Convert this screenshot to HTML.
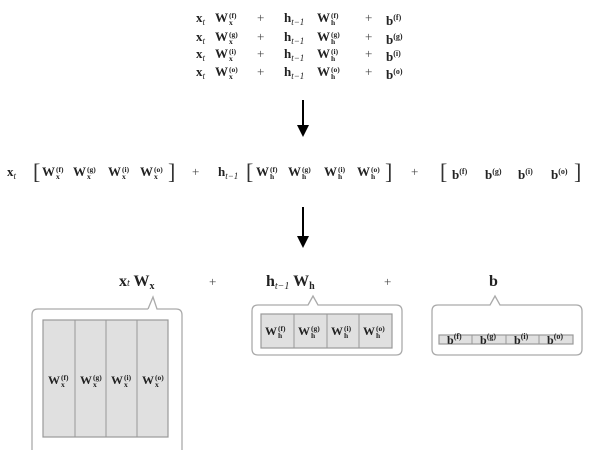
<!DOCTYPE html>
<html><head><meta charset="utf-8"><style>
body{margin:0;width:604px;height:450px;background:#fff;position:relative;overflow:hidden;font-family:"Liberation Serif",serif;color:#222}
.t{position:absolute;font-weight:bold;font-size:13px;line-height:16px;white-space:nowrap}
.p{position:absolute;font-size:13px;line-height:16px;color:#444}
.ss{display:inline-block;vertical-align:middle;font-size:7.5px;line-height:7px;text-align:left;margin-left:1px}
.ss span{display:block}
.it{font-style:italic;font-weight:normal}
.sub{font-size:9px;position:relative;top:3px}
.br{position:absolute;font-size:22px;line-height:22px;color:#333;font-weight:normal}
</style></head><body>

<!-- top block -->
<div class="t" style="left:196px;top:10px">x<span class="sub it">t</span></div>
<div class="t" style="left:215px;top:10px">W<span class="ss"><span>(f)</span><span>x</span></span></div>
<div class="p" style="left:257px;top:10px">+</div>
<div class="t" style="left:284px;top:10px">h<span class="sub it">t−1</span></div>
<div class="t" style="left:317px;top:10px">W<span class="ss"><span>(f)</span><span>h</span></span></div>
<div class="p" style="left:365px;top:10px">+</div>
<div class="t" style="left:386px;top:10px">b<span style="font-size:8px;vertical-align:5px">(f)</span></div>

<div class="t" style="left:196px;top:29px">x<span class="sub it">t</span></div>
<div class="t" style="left:215px;top:29px">W<span class="ss"><span>(g)</span><span>x</span></span></div>
<div class="p" style="left:257px;top:29px">+</div>
<div class="t" style="left:284px;top:29px">h<span class="sub it">t−1</span></div>
<div class="t" style="left:317px;top:29px">W<span class="ss"><span>(g)</span><span>h</span></span></div>
<div class="p" style="left:365px;top:29px">+</div>
<div class="t" style="left:386px;top:29px">b<span style="font-size:8px;vertical-align:5px">(g)</span></div>

<div class="t" style="left:196px;top:46px">x<span class="sub it">t</span></div>
<div class="t" style="left:215px;top:46px">W<span class="ss"><span>(i)</span><span>x</span></span></div>
<div class="p" style="left:257px;top:46px">+</div>
<div class="t" style="left:284px;top:46px">h<span class="sub it">t−1</span></div>
<div class="t" style="left:317px;top:46px">W<span class="ss"><span>(i)</span><span>h</span></span></div>
<div class="p" style="left:365px;top:46px">+</div>
<div class="t" style="left:386px;top:46px">b<span style="font-size:8px;vertical-align:5px">(i)</span></div>

<div class="t" style="left:196px;top:64px">x<span class="sub it">t</span></div>
<div class="t" style="left:215px;top:64px">W<span class="ss"><span>(o)</span><span>x</span></span></div>
<div class="p" style="left:257px;top:64px">+</div>
<div class="t" style="left:284px;top:64px">h<span class="sub it">t−1</span></div>
<div class="t" style="left:317px;top:64px">W<span class="ss"><span>(o)</span><span>h</span></span></div>
<div class="p" style="left:365px;top:64px">+</div>
<div class="t" style="left:386px;top:64px">b<span style="font-size:8px;vertical-align:5px">(o)</span></div>

<!-- middle row -->
<div class="t" style="left:7px;top:164px">x<span class="sub it">t</span></div>
<div class="br" style="left:33px;top:161px">[</div>
<div class="t" style="left:42px;top:164px">W<span class="ss"><span>(f)</span><span>x</span></span></div>
<div class="t" style="left:73px;top:164px">W<span class="ss"><span>(g)</span><span>x</span></span></div>
<div class="t" style="left:108px;top:164px">W<span class="ss"><span>(i)</span><span>x</span></span></div>
<div class="t" style="left:140px;top:164px">W<span class="ss"><span>(o)</span><span>x</span></span></div>
<div class="br" style="left:168px;top:161px">]</div>
<div class="p" style="left:192px;top:164px">+</div>
<div class="t" style="left:218px;top:164px">h<span class="sub it">t−1</span></div>
<div class="br" style="left:246px;top:161px">[</div>
<div class="t" style="left:256px;top:164px">W<span class="ss"><span>(f)</span><span>h</span></span></div>
<div class="t" style="left:288px;top:164px">W<span class="ss"><span>(g)</span><span>h</span></span></div>
<div class="t" style="left:324px;top:164px">W<span class="ss"><span>(i)</span><span>h</span></span></div>
<div class="t" style="left:357px;top:164px">W<span class="ss"><span>(o)</span><span>h</span></span></div>
<div class="br" style="left:385px;top:161px">]</div>
<div class="p" style="left:411px;top:164px">+</div>
<div class="br" style="left:440px;top:161px">[</div>
<div class="t" style="left:452px;top:164px">b<span style="font-size:8px;vertical-align:5px">(f)</span></div>
<div class="t" style="left:485px;top:164px">b<span style="font-size:8px;vertical-align:5px">(g)</span></div>
<div class="t" style="left:518px;top:164px">b<span style="font-size:8px;vertical-align:5px">(i)</span></div>
<div class="t" style="left:551px;top:164px">b<span style="font-size:8px;vertical-align:5px">(o)</span></div>
<div class="br" style="left:574px;top:161px">]</div>

<!-- bottom labels -->
<div class="t" style="left:119px;top:272px;font-size:16px;line-height:20px">x<span class="it" style="font-size:10px">t</span> W<span style="font-size:10px;position:relative;top:3px">x</span></div>
<div class="p" style="left:209px;top:274px">+</div>
<div class="t" style="left:266px;top:272px;font-size:16px;line-height:20px">h<span class="it" style="font-size:10px;position:relative;top:3px">t−1</span> W<span style="font-size:10px;position:relative;top:3px">h</span></div>
<div class="p" style="left:384px;top:274px">+</div>
<div class="t" style="left:489px;top:272px;font-size:16px;line-height:20px">b</div>

<svg width="604" height="450" style="position:absolute;left:0;top:0">
<!-- arrows -->
<line x1="303" y1="100" x2="303" y2="126" stroke="#000" stroke-width="2"/>
<polygon points="297,125 309,125 303,137" fill="#000"/>
<line x1="303" y1="207" x2="303" y2="237" stroke="#000" stroke-width="2"/>
<polygon points="297,236 309,236 303,248" fill="#000"/>
<g fill="none" stroke="#aaa" stroke-width="1.3">
<path d="M148,309 L153,297 L157,309 L176,309 Q182,309 182,315 L182,452 M32,452 L32,315 Q32,309 38,309 L148,309"/>
<path d="M308,305 L313,296 L318,305 L396,305 Q402,305 402,311 L402,349 Q402,355 396,355 L258,355 Q252,355 252,349 L252,311 Q252,305 258,305 Z"/>
<path d="M490,305 L495,296 L500,305 L576,305 Q582,305 582,311 L582,349 Q582,355 576,355 L438,355 Q432,355 432,349 L432,311 Q432,305 438,305 Z"/>
</g>
<g fill="#e0e0e0" stroke="#999" stroke-width="1.2">
<rect x="43" y="320" width="125" height="117"/>
<rect x="261" y="314" width="131" height="34"/>
<rect x="439" y="335" width="134" height="9"/>
</g>
<g stroke="#999" stroke-width="1">
<line x1="75" y1="320" x2="75" y2="437"/><line x1="106" y1="320" x2="106" y2="437"/><line x1="137" y1="320" x2="137" y2="437"/>
<line x1="294" y1="314" x2="294" y2="348"/><line x1="327" y1="314" x2="327" y2="348"/><line x1="359" y1="314" x2="359" y2="348"/>
<line x1="472" y1="335" x2="472" y2="344"/><line x1="506" y1="335" x2="506" y2="344"/><line x1="539" y1="335" x2="539" y2="344"/>
</g>
</svg>

<!-- grid labels -->
<div class="t" style="left:48px;top:372px;font-size:12px">W<span class="ss"><span>(f)</span><span>x</span></span></div>
<div class="t" style="left:80px;top:372px;font-size:12px">W<span class="ss"><span>(g)</span><span>x</span></span></div>
<div class="t" style="left:111px;top:372px;font-size:12px">W<span class="ss"><span>(i)</span><span>x</span></span></div>
<div class="t" style="left:142px;top:372px;font-size:12px">W<span class="ss"><span>(o)</span><span>x</span></span></div>

<div class="t" style="left:265px;top:323px;font-size:12px">W<span class="ss"><span>(f)</span><span>h</span></span></div>
<div class="t" style="left:298px;top:323px;font-size:12px">W<span class="ss"><span>(g)</span><span>h</span></span></div>
<div class="t" style="left:331px;top:323px;font-size:12px">W<span class="ss"><span>(i)</span><span>h</span></span></div>
<div class="t" style="left:363px;top:323px;font-size:12px">W<span class="ss"><span>(o)</span><span>h</span></span></div>

<div class="t" style="left:447px;top:330px;font-size:12px;line-height:14px">b<span style="font-size:8px;vertical-align:5px">(f)</span></div>
<div class="t" style="left:480px;top:330px;font-size:12px;line-height:14px">b<span style="font-size:8px;vertical-align:5px">(g)</span></div>
<div class="t" style="left:514px;top:330px;font-size:12px;line-height:14px">b<span style="font-size:8px;vertical-align:5px">(i)</span></div>
<div class="t" style="left:547px;top:330px;font-size:12px;line-height:14px">b<span style="font-size:8px;vertical-align:5px">(o)</span></div>
</body></html>
